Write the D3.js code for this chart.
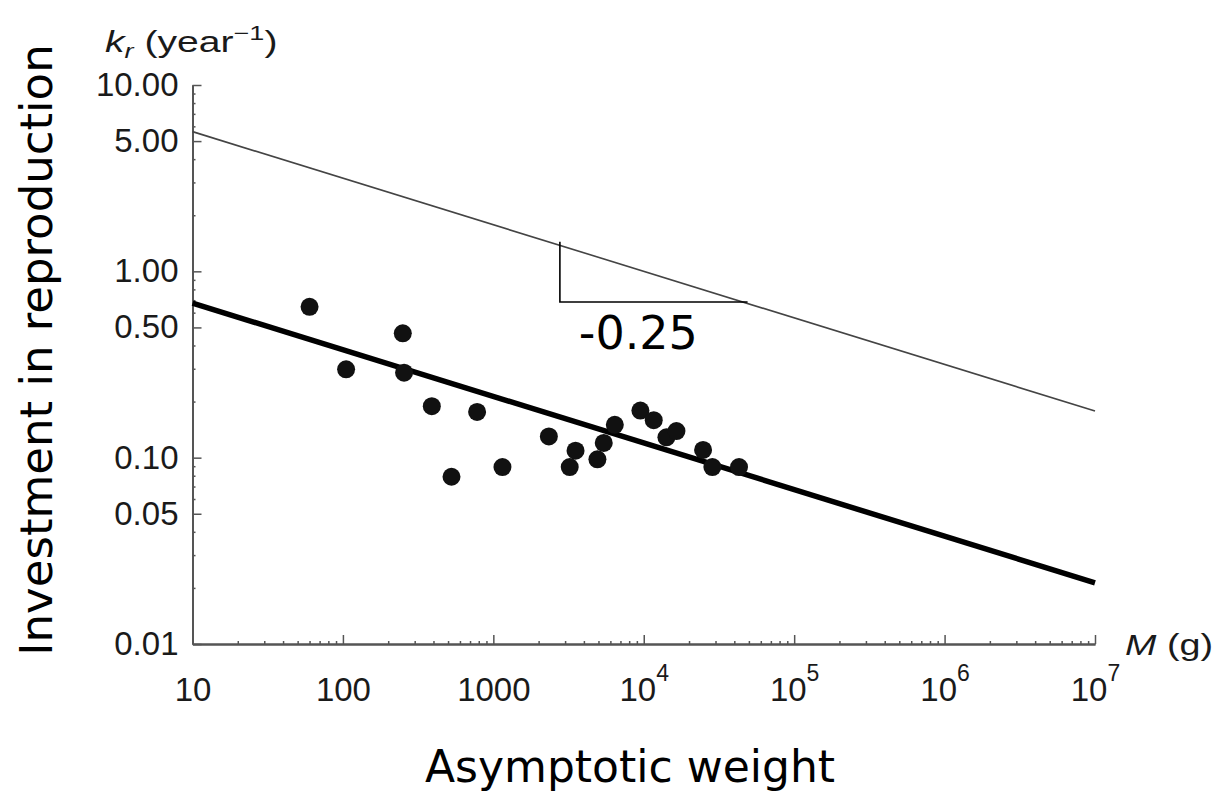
<!DOCTYPE html>
<html>
<head>
<meta charset="utf-8">
<script src="https://cdn.jsdelivr.net/npm/d3@7"></script>
<style>
body { margin: 0; background: #fff; }
</style>
</head>
<body>
<div id="chart-area"></div>
<script>
// asymptotic weight M (g) and investment in reproduction kr (year^-1)
var weights = [60, 105, 250, 255, 390, 780, 527, 1150, 2340, 3520, 3220, 4920, 5420, 6420, 9500, 11650, 14150, 16500, 24800, 28600, 43000];
var kr = [0.645, 0.298, 0.465, 0.286, 0.189, 0.176, 0.079, 0.089, 0.13, 0.109, 0.089, 0.098, 0.12, 0.15, 0.179, 0.159, 0.1285, 0.139, 0.11, 0.089, 0.089];

// the two -0.25 lines (end points)
var lineM = [10, 1e7];
var upperK = [5.62, 0.178];
var fitK = [0.675, 0.0213];

// slope triangle
var slopeM = [2770, 2770, 49000];
var slopeK = [1.44, 0.684, 0.684];

var yTickValues = [0.01, 0.05, 0.1, 0.5, 1, 5, 10];
var yTickLabels = ["0.01", "0.05", "0.10", "0.50", "1.00", "5.00", "10.00"];
var xTickValues = [10, 100, 1000, 1e4, 1e5, 1e6, 1e7];
var xTickBase = ["10", "100", "1000", "10", "10", "10", "10"];
var xTickExp = ["", "", "", "4", "5", "6", "7"];

var margin = {top: 85, bottom: 147, right: 128, left: 192.5};
var width = 1223 - margin.left - margin.right;
var height = 791 - margin.top - margin.bottom;

var svg = d3.select("#chart-area")
	.append("svg")
	.attr("width", 1223)
	.attr("height", 791);

var g = svg.append("g")
	.attr("transform", "translate(" + margin.left + "," + margin.top + ")");

var x = d3.scaleLog().domain([10, 1e7]).range([0, width]);
var y = d3.scaleLog().domain([0.01, 10]).range([height, 0]);

var axisColor = "#555";

// minor ticks
var xMinor = x.ticks().filter(function(d) { return xTickValues.indexOf(d) < 0; });
var yMinor = y.ticks().filter(function(d) {
	return !yTickValues.some(function(v) { return Math.abs(v - d) / v < 1e-6; });
});

g.append("g")
	.attr("class", "x-minor")
	.attr("transform", "translate(0," + height + ")")
	.call(d3.axisBottom(x).tickValues(xMinor).tickSize(-3).tickSizeOuter(0).tickFormat(""));

g.append("g")
	.attr("class", "y-minor")
	.call(d3.axisLeft(y).tickValues(yMinor).tickSize(-3).tickSizeOuter(0).tickFormat(""));

var xAxis = g.append("g")
	.attr("class", "x-axis")
	.attr("transform", "translate(0," + height + ")")
	.call(d3.axisBottom(x).tickValues(xTickValues).tickSize(-9).tickSizeOuter(0).tickPadding(34)
		.tickFormat(function(d, i) { return xTickBase[i]; }));

xAxis.selectAll(".tick text").each(function(d, i) {
	if (xTickExp[i]) {
		d3.select(this).append("tspan")
			.attr("dy", "-20")
			.attr("font-size", "23px")
			.text(xTickExp[i]);
	}
});

var yAxis = g.append("g")
	.attr("class", "y-axis")
	.call(d3.axisLeft(y).tickValues(yTickValues).tickSize(-9).tickSizeOuter(0).tickPadding(14)
		.tickFormat(function(d, i) { return yTickLabels[i]; }));

g.selectAll(".domain").attr("stroke", axisColor).attr("stroke-width", 2);
g.selectAll(".tick line").attr("stroke", axisColor).attr("stroke-width", 1.5);
g.selectAll(".tick text")
	.attr("fill", "#1a1a1a")
	.attr("font-family", "'Liberation Sans', Arial, sans-serif")
	.attr("font-size", "33px");

// lines
var line = d3.line()
	.x(function(d) { return x(d[0]); })
	.y(function(d) { return y(d[1]); });

g.append("path")
	.datum(d3.zip(lineM, upperK))
	.attr("d", line)
	.attr("fill", "none")
	.attr("stroke", "#444")
	.attr("stroke-width", 1.6);

g.append("path")
	.datum(d3.zip(lineM, fitK))
	.attr("d", line)
	.attr("fill", "none")
	.attr("stroke", "#000")
	.attr("stroke-width", 5.5);

g.append("path")
	.datum(d3.zip(slopeM, slopeK))
	.attr("d", line)
	.attr("fill", "none")
	.attr("stroke", "#000")
	.attr("stroke-width", 1.6);

g.append("text")
	.attr("x", x(3700))
	.attr("y", y(0.684) + 47)
	.attr("font-family", "'DejaVu Sans', Verdana, sans-serif")
	.attr("font-size", "46px")
	.attr("fill", "#000")
	.text("-0.25");

// points
g.append("g")
	.attr("class", "dots")
	.selectAll("circle")
	.data(d3.zip(weights, kr))
	.enter()
	.append("circle")
	.attr("cx", function(d) { return x(d[0]); })
	.attr("cy", function(d) { return y(d[1]); })
	.attr("r", 9)
	.attr("fill", "#111");

// axis unit labels
var krLabel = svg.append("text")
	.attr("transform", "translate(105,52) scale(1.35,1)")
	.attr("font-family", "'Liberation Sans', Arial, sans-serif")
	.attr("font-size", "29px")
	.attr("fill", "#1a1a1a");
krLabel.append("tspan").attr("font-style", "italic").text("k");
krLabel.append("tspan").attr("font-style", "italic").attr("font-size", "20px").attr("dy", 6).text("r");
krLabel.append("tspan").attr("dy", -6).text(" (year");
krLabel.append("tspan").attr("font-size", "20px").attr("dy", -12).text("\u22121");
krLabel.append("tspan").attr("dy", 12).text(")");

var mLabel = svg.append("text")
	.attr("transform", "translate(1125,655) scale(1.3,1)")
	.attr("font-family", "'Liberation Sans', Arial, sans-serif")
	.attr("font-size", "29px")
	.attr("fill", "#1a1a1a");
mLabel.append("tspan").attr("font-style", "italic").text("M");
mLabel.append("tspan").text(" (g)");

// axis titles
svg.append("text")
	.attr("transform", "translate(52," + 350 + ") rotate(-90)")
	.attr("text-anchor", "middle")
	.attr("font-family", "'DejaVu Sans', Verdana, sans-serif")
	.attr("font-size", "45px")
	.attr("fill", "#000")
	.text("Investment in reproduction");

svg.append("text")
	.attr("x", 630)
	.attr("y", 782)
	.attr("text-anchor", "middle")
	.attr("font-family", "'DejaVu Sans', Verdana, sans-serif")
	.attr("font-size", "44px")
	.attr("fill", "#000")
	.text("Asymptotic weight");
</script>
</body>
</html>
